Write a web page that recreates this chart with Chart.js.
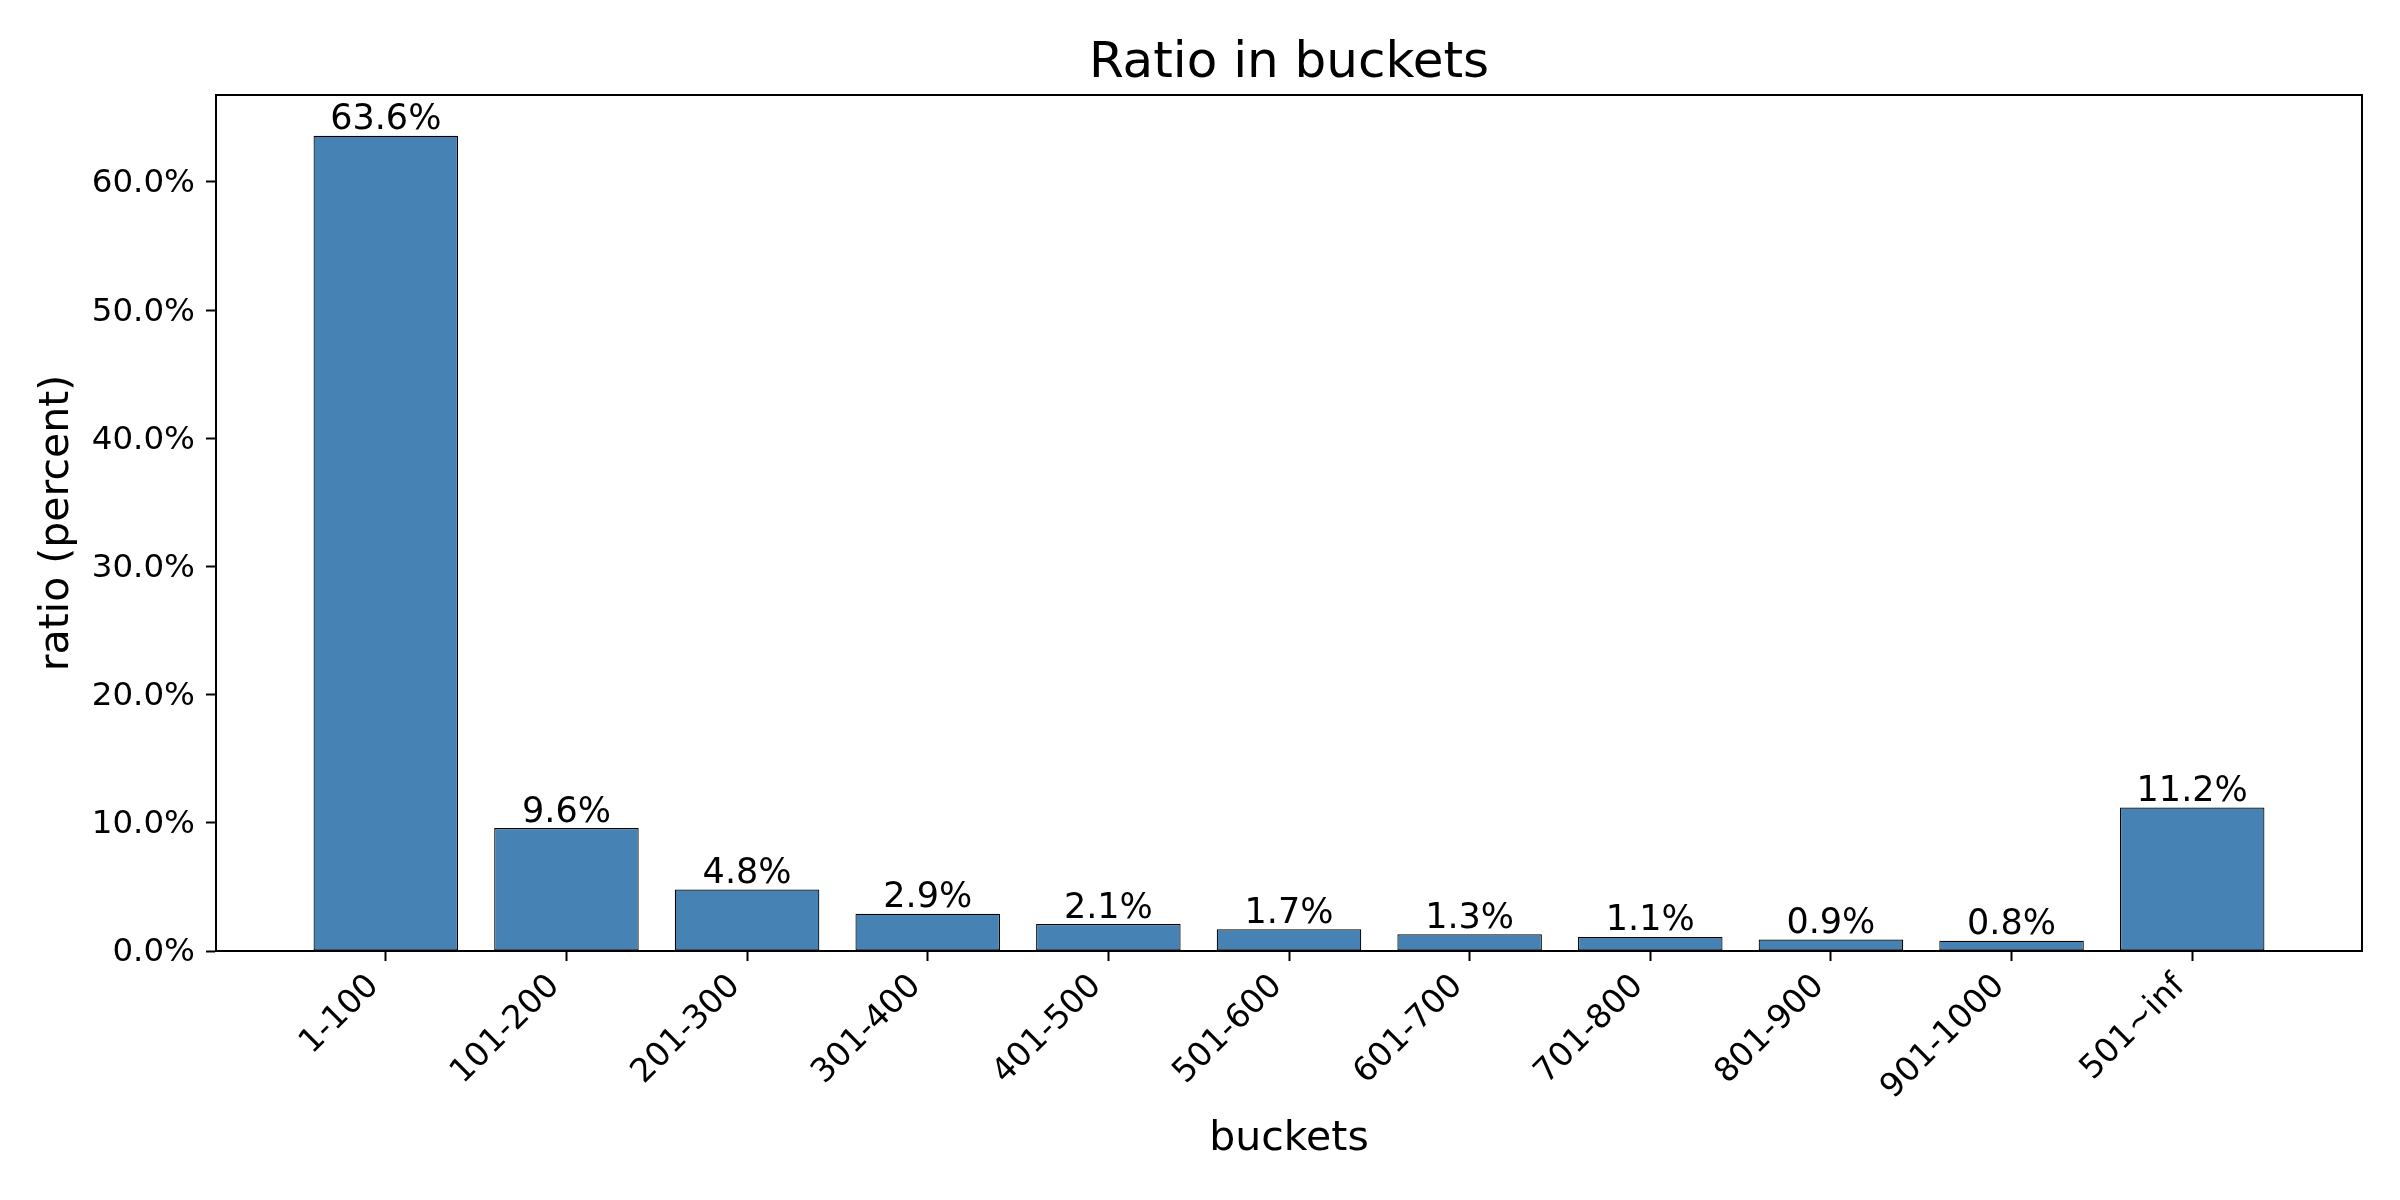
<!DOCTYPE html>
<html>
<head>
<meta charset="utf-8">
<title>Ratio in buckets</title>
<script src="https://cdn.jsdelivr.net/npm/chart.js@4/dist/chart.umd.min.js"></script>
<style>
    html, body { margin: 0; padding: 0; background: #fff; }
    #wrap { width: 2400px; height: 1200px; }
</style>
</head>
<body>
<div id="wrap"><canvas id="bucketChart" width="2400" height="1200"></canvas></div>
<script>
const buckets = ['1-100', '101-200', '201-300', '301-400', '401-500', '501-600',
                 '601-700', '701-800', '801-900', '901-1000', '501~inf'];
const ratios = [63.6, 9.6, 4.8, 2.9, 2.1, 1.7, 1.3, 1.1, 0.9, 0.8, 11.2];
const yTicks = [0, 10, 20, 30, 40, 50, 60];

const FONT = "'DejaVu Sans', sans-serif";
Chart.defaults.font.family = FONT;
Chart.defaults.color = '#000';

// 棒の上に値を書く + 枠線
const barLabels = {
    id: 'barLabels',
    afterDatasetsDraw(chart) {
        const ctx = chart.ctx;
        const meta = chart.getDatasetMeta(0);
        ctx.save();
        ctx.font = '35px ' + FONT;
        ctx.fillStyle = '#000';
        ctx.textAlign = 'center';
        ctx.textBaseline = 'bottom';
        meta.data.forEach((bar, i) => {
            ctx.fillText(ratios[i].toFixed(1) + '%', bar.x, bar.y + 2);
        });
        ctx.restore();
    },
    afterDraw(chart) {
        const a = chart.chartArea;
        const ctx = chart.ctx;
        ctx.save();
        ctx.strokeStyle = '#000';
        ctx.lineWidth = 2;
        ctx.strokeRect(a.left, a.top, a.right - a.left, a.bottom - a.top);
        ctx.restore();
    }
};

const ctx = document.getElementById('bucketChart').getContext('2d');
new Chart(ctx, {
    type: 'bar',
    data: {
        datasets: [{
            data: ratios.map((v, i) => ({ x: i, y: v })),
            backgroundColor: '#4682b4',
            borderColor: '#000',
            borderWidth: 1.2,
            borderSkipped: false,
            categoryPercentage: 1.0,
            barPercentage: 0.8
        }]
    },
    options: {
        responsive: false,
        animation: false,
        devicePixelRatio: 1,
        layout: { padding: { left: 0, right: 38, top: 0, bottom: 0 } },
        plugins: {
            legend: { display: false },
            tooltip: { enabled: false },
            title: {
                display: true,
                fullSize: false,  // グラフ領域の上で中央揃え
                text: 'Ratio in buckets',
                font: { size: 50, weight: 'normal' },
                color: '#000',
                padding: { top: 34, bottom: 1 }
            }
        },
        scales: {
            x: {
                type: 'linear',
                offset: false,
                min: -0.94,
                max: 10.94,
                afterBuildTicks: scale => {
                    scale.ticks = buckets.map((_, i) => ({ value: i }));
                },
                afterFit: scale => { scale.height = 249; },
                grid: {
                    offset: false,
                    drawOnChartArea: false,
                    drawTicks: true,
                    tickLength: 10,
                    tickWidth: 2,
                    tickColor: '#000'
                },
                border: { display: true, color: '#000', width: 2 },
                ticks: {
                    autoSkip: false,
                    minRotation: 45,
                    maxRotation: 45,
                    padding: 6,
                    labelOffset: -12,
                    font: { size: 33 },
                    callback: v => buckets[v]
                },
                title: {
                    display: true,
                    text: 'buckets',
                    font: { size: 41 },
                    padding: { top: 0, bottom: 36 }
                }
            },
            y: {
                min: 0,
                max: 66.78,
                afterBuildTicks: scale => {
                    scale.ticks = yTicks.map(v => ({ value: v }));
                },
                afterFit: scale => { scale.width = 216; },
                grid: {
                    drawOnChartArea: false,
                    drawTicks: true,
                    tickLength: 10,
                    tickWidth: 2,
                    tickColor: '#000'
                },
                border: { display: true, color: '#000', width: 2 },
                ticks: {
                    padding: 11,
                    labelOffset: 2,
                    font: { size: 32.5 },
                    callback: v => v.toFixed(1) + '%'
                },
                title: {
                    display: true,
                    text: 'ratio (percent)',
                    font: { size: 41 },
                    padding: { top: 33, bottom: 0 }
                }
            }
        }
    },
    plugins: [barLabels]
});
</script>
</body>
</html>
